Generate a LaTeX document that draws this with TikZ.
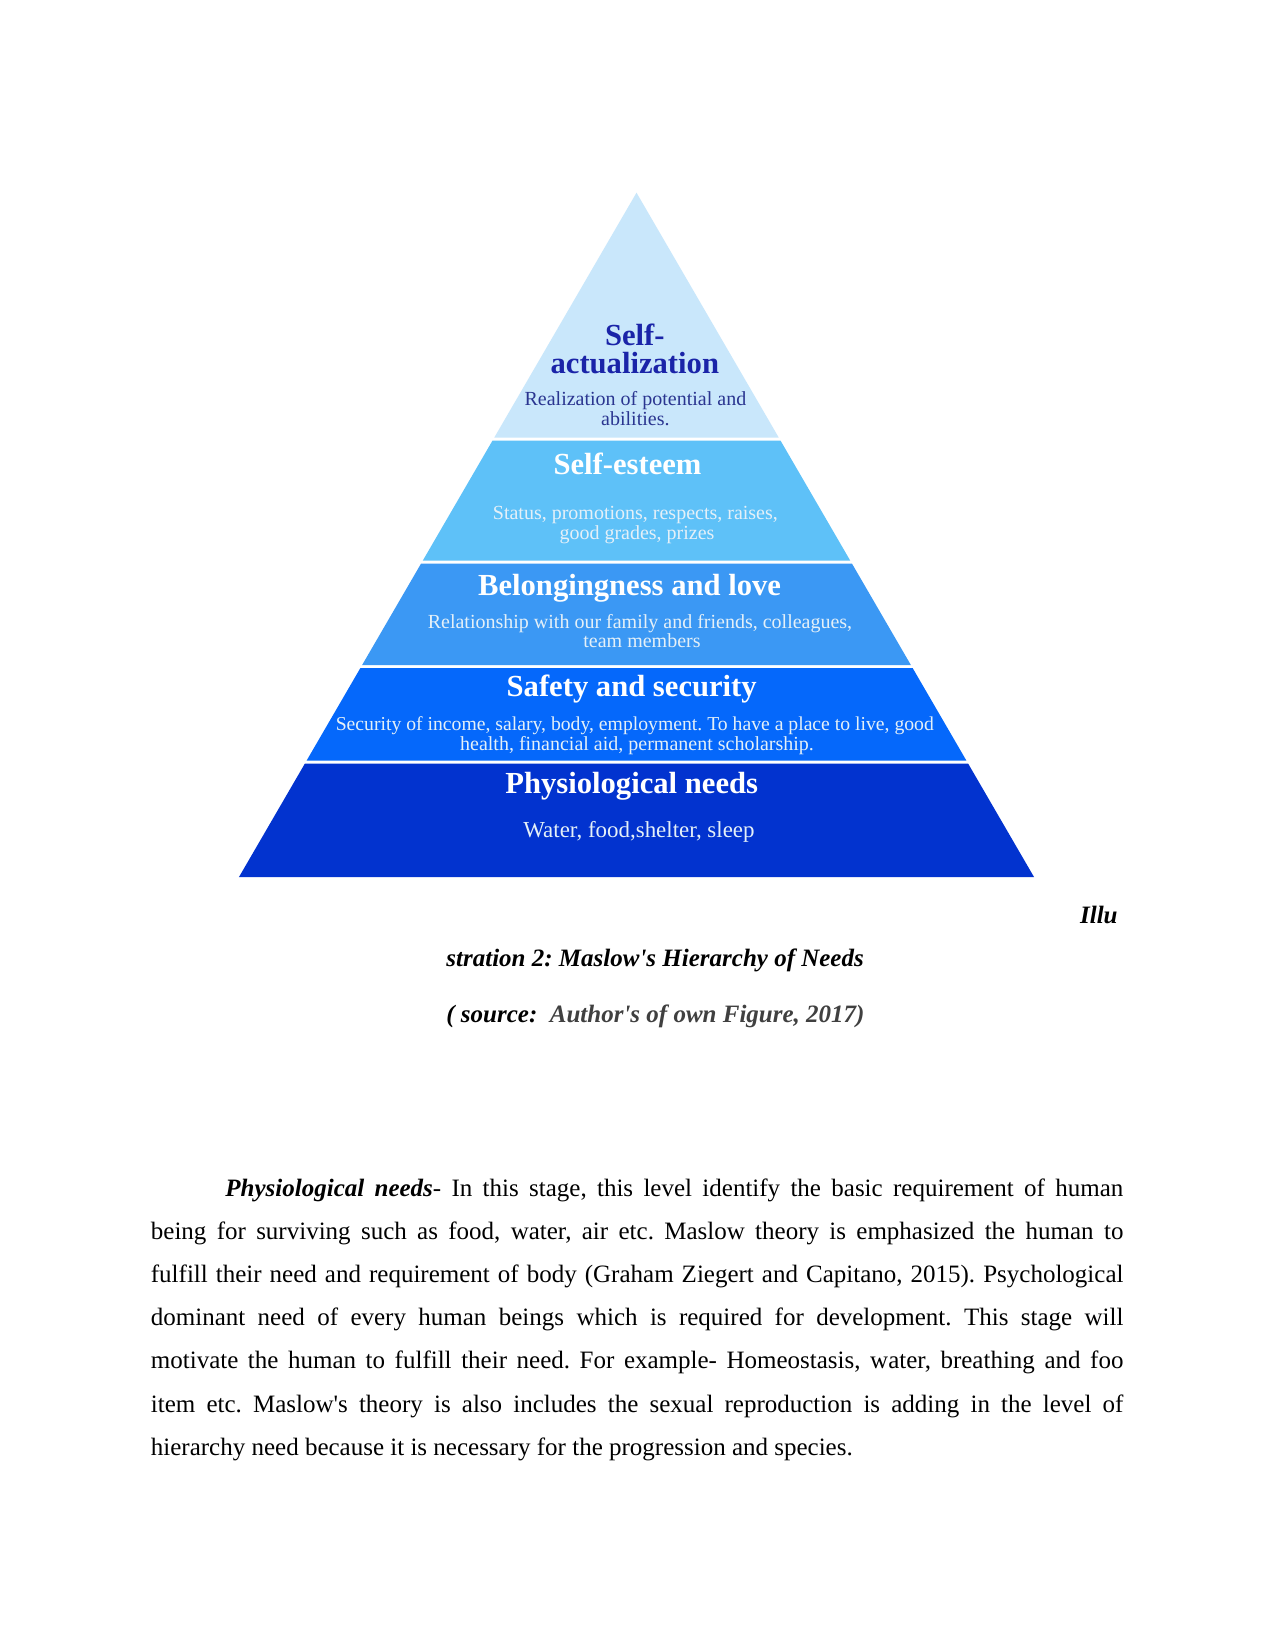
\documentclass[tikz,border=0pt]{standalone}
\usepackage{fontspec}
\setmainfont{Liberation Serif}[Ligatures=TeXOff]
\frenchspacing
\definecolor{bandA}{HTML}{C9E7FB}
\definecolor{bandB}{HTML}{5EC1F8}
\definecolor{bandC}{HTML}{3B98F4}
\definecolor{bandD}{HTML}{0568FB}
\definecolor{bandE}{HTML}{0233CF}
\definecolor{navyA}{HTML}{1A24A8}
\definecolor{navyB}{HTML}{2A3590}
\definecolor{paleA}{HTML}{E4F0F8}
\definecolor{capgray}{HTML}{404040}
\newcommand{\pyrband}[3]{%
  \fill[#3] ({636.5-0.5809*(#1-192.7)},#1) -- ({636.5+0.5809*(#1-192.7)},#1)
    -- ({636.5+0.5809*(#2-192.7)},#2) -- ({636.5-0.5809*(#2-192.7)},#2) -- cycle;}
\begin{document}
\frenchspacing
\begin{tikzpicture}[x=0.48pt,y=-0.48pt,
  title/.style={font=\fontsize{14.7pt}{15pt}\selectfont\bfseries, inner sep=0, anchor=base},
  sub/.style={font=\fontsize{9.6pt}{10pt}\selectfont, inner sep=0, anchor=base},
  bodyline/.style={font=\fontsize{12pt}{14pt}\selectfont, inner sep=0, anchor=base west},
  capline/.style={font=\fontsize{12pt}{14pt}\selectfont\bfseries\itshape, inner sep=0}]
\useasboundingbox (0,0) rectangle (1275,1651);
\fill[white] (0,0) rectangle (1275,1651);
% pyramid bands
\pyrband{192.7}{437.5}{bandA}
\pyrband{440.5}{560.5}{bandB}
\pyrband{563.5}{665}{bandC}
\pyrband{668}{760.7}{bandD}
\pyrband{763.7}{877}{bandE}
% texts in pyramid
\node[title, text=navyA, anchor=north, align=center,
  font=\fontsize{14.7pt}{13.4pt}\selectfont\bfseries] (t1) at (634.8,324) {Self-\\actualization};
\node[sub, text=navyB] (s1a) at (635.4,405.2) {Realization of potential and};
\node[sub, text=navyB] (s1b) at (635.4,425.2) {abilities.};
\node[title, text=white] (t2) at (627.5,474.6) {Self-esteem};
\node[sub, text=paleA] (s2a) at (635.4,519.4) {Status, promotions, respects, raises,};
\node[sub, text=paleA] (s2b) at (637,539.4) {good grades, prizes};
\node[title, text=white] (t3) at (629.6,595.7) {Belongingness and love};
\node[sub, text=paleA] (s3a) at (640,628.6) {Relationship with our family and friends, colleagues,};
\node[sub, text=paleA] (s3b) at (642,647.6) {team members};
\node[title, text=white] (t4) at (631.7,696.8) {Safety and security};
\node[sub, text=paleA, font=\fontsize{9.45pt}{10pt}\selectfont] (s4a) at (634.8,730.7) {Security of income, salary, body, employment. To have a place to live, good};
\node[sub, text=paleA] (s4b) at (637,750.7) {health, financial aid, permanent scholarship.};
\node[title, text=white] (t5) at (631.7,793.7) {Physiological needs};
\node[sub, text=paleA, font=\fontsize{11pt}{12pt}\selectfont] (s5) at (639,837.7) {Water, food,shelter, sleep};
% caption
\node[capline, anchor=base east] (c1) at (1118,923) {Illu};
\node[capline, anchor=base west] (c2) at (446,966) {stration 2: Maslow's Hierarchy of Needs};
\node[capline, anchor=base west] (c3) at (446,1022) {( source:\ \ \textcolor{capgray}{Author's of own Figure, 2017)}};
% body text
\node[bodyline] (b1) at (225,1196) {\makebox[431pt][s]{\textbf{\textit{Physiological needs}}- In this stage, this level identify the basic requirement of human}};
\node[bodyline] (b2) at (150.5,1239.2) {\makebox[466.8pt][s]{being for surviving such as food, water, air etc. Maslow theory is emphasized the human to}};
\node[bodyline] (b3) at (150.5,1282.4) {\makebox[466.8pt][s]{fulfill their need and requirement of body (Graham Ziegert and Capitano, 2015). Psychological}};
\node[bodyline] (b4) at (150.5,1325.6) {\makebox[466.8pt][s]{dominant need of every human beings which is required for development. This stage will}};
\node[bodyline] (b5) at (150.5,1368.8) {\makebox[466.8pt][s]{motivate the human to fulfill their need. For example- Homeostasis, water, breathing and foo}};
\node[bodyline] (b6) at (150.5,1412) {\makebox[466.8pt][s]{item etc. Maslow's theory is also includes the sexual reproduction is adding in the level of}};
\node[bodyline] (b7) at (150.5,1455.2) {hierarchy need because it is necessary for the progression and species.};
\end{tikzpicture}
\end{document}
